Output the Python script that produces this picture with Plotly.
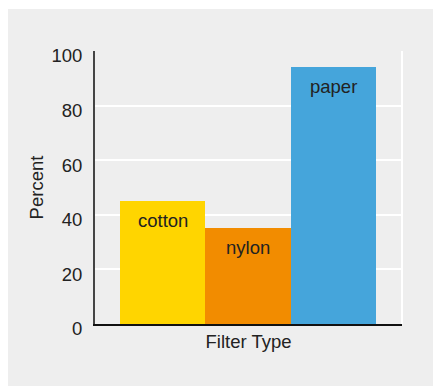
import plotly.graph_objects as go

categories = ["cotton", "nylon", "paper"]
percent = [45, 35, 94]
colors = ["#FFD500", "#F28C00", "#45A5DB"]
y_ticks = [0, 20, 40, 60, 80, 100]

FONT = "Liberation Sans, Arial, sans-serif"
TXT = "#222222"
FS = 18.5

fig = go.Figure()
fig.add_trace(go.Bar(
    x=categories, y=percent, marker=dict(color=colors, line=dict(width=0)),
    hoverinfo="skip", showlegend=False,
))

for c, v in zip(categories, percent):
    fig.add_annotation(x=c, y=v, text=c, showarrow=False, yanchor="top",
                       yshift=-7, font=dict(family=FONT, size=FS, color=TXT))

# grey panel behind the chart
fig.add_shape(type="rect", xref="paper", yref="paper",
              x0=-0.4, x1=1.3, y0=-0.4, y1=1.154,
              fillcolor="#EEEEEE", line=dict(width=0), layer="below")
# white right border line of plot area
fig.add_shape(type="line", xref="paper", yref="paper", x0=1, x1=1, y0=0, y1=1,
              line=dict(color="white", width=2), layer="below")

fig.update_layout(
    width=433, height=378,
    margin=dict(l=87, r=39, t=43, b=62),
    paper_bgcolor="white", plot_bgcolor="rgba(0,0,0,0)",
    bargap=0,
    font=dict(family=FONT, size=FS, color=TXT),
    xaxis=dict(range=[-0.79, 2.8], showticklabels=False, ticks="",
               showgrid=False, zeroline=False, showline=True,
               linecolor="#111111", linewidth=2,
               title=dict(text="Filter Type", standoff=10,
                          font=dict(family=FONT, size=FS, color=TXT))),
    yaxis=dict(range=[0, 100], tickvals=y_ticks, showgrid=True,
               gridcolor="white", gridwidth=1.5, zeroline=False,
               showline=True, linecolor="#444444", linewidth=2,
               ticks="", ticklabelstandoff=7, ticklabelshift=5,
               tickfont=dict(family=FONT, size=FS, color=TXT),
               title=dict(text="Percent", standoff=3,
                          font=dict(family=FONT, size=FS, color=TXT))),
)

fig.write_html("out.html")
